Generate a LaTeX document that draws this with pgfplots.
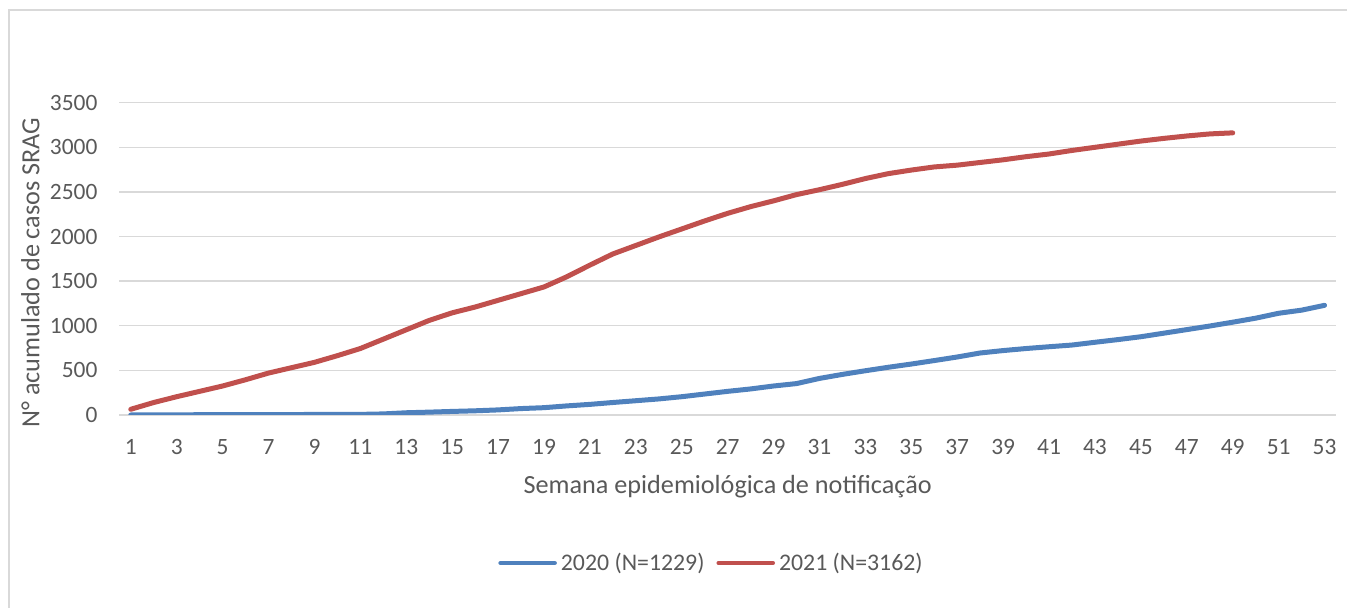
\documentclass[border=0pt]{standalone}
\usepackage{fontspec}
\setmainfont{Carlito}
\usepackage{pgfplots}
\pgfplotsset{compat=1.18}
\definecolor{blue20}{HTML}{4F81BD}
\definecolor{red21}{HTML}{C0504D}
\definecolor{txt}{HTML}{595959}
\definecolor{grd}{HTML}{D9D9D9}
\begin{document}
\begin{tikzpicture}
\useasboundingbox (0,0) rectangle (673.5pt,304pt);
\draw[grd, line width=0.8pt] (4.5pt,0) -- (4.5pt,299pt) -- (673.5pt,299pt);
\begin{axis}[
  at={(59.65pt,96.5pt)}, anchor=south west,
  scale only axis, width=608.35pt, height=156.15pt,
  xmin=0.5, xmax=53.5, ymin=0, ymax=3500,
  xtick={1,3,...,53}, ytick={0,500,...,3500},
  axis line style={draw=none},
  tick style={draw=none},
  ymajorgrids, grid style={grd, line width=0.7pt},
  /pgf/number format/assume math mode=true,
  /pgf/number format/1000 sep={},
  ticklabel style={font=\fontsize{11.7}{13}\selectfont, text=txt},
  xticklabel style={yshift=-8.5pt},
  yticklabel style={xshift=-7.4pt},
  xlabel={Semana epidemiológica de notificação},
  ylabel={N° acumulado de casos SRAG},
  label style={font=\fontsize{13.1}{15}\selectfont, text=txt},
  xlabel style={at={(axis description cs:0.5,-0.2305)}, anchor=center},
  ylabel style={at={(axis description cs:-0.073,0.456)}, anchor=center},
  legend columns=2,
  legend style={draw=none, fill=none, at={(axis description cs:0.4875,-0.474)}, anchor=center,
    font=\fontsize{11.9}{14}\selectfont, text=txt,
    /tikz/every even column/.append style={column sep=4pt}},
  legend image code/.code={\draw[#1, line width=2.3pt, line cap=round] (0pt,0pt) -- (27pt,0pt);},
  legend cell align=left,
]
\addplot[blue20, line width=2.5pt, line cap=round, line join=round] coordinates {
(1,0) (2,1) (3,2) (4,3) (5,3) (6,4) (7,5) (8,5) (9,6) (10,6) (11,7) (12,12) (13,25) (14,32) (15,40) (16,47) (17,57) (18,72) (19,82) (20,102) (21,119) (22,140) (23,160) (24,180) (25,205) (26,235) (27,265) (28,292) (29,325) (30,352) (31,410) (32,455) (33,496) (34,535) (35,571) (36,610) (37,650) (38,695) (39,722) (40,745) (41,765) (42,784) (43,815) (44,845) (45,877) (46,917) (47,957) (48,997) (49,1040) (50,1085) (51,1140) (52,1175) (53,1229)
};
\addlegendentry{2020 (N=1229)}
\addplot[red21, line width=2.5pt, line cap=round, line join=round] coordinates {
(1,64) (2,140) (3,205) (4,265) (5,325) (6,395) (7,470) (8,530) (9,590) (10,665) (11,745) (12,850) (13,955) (14,1060) (15,1145) (16,1210) (17,1285) (18,1360) (19,1435) (20,1550) (21,1680) (22,1805) (23,1900) (24,1995) (25,2085) (26,2175) (27,2260) (28,2335) (29,2400) (30,2470) (31,2525) (32,2585) (33,2650) (34,2705) (35,2745) (36,2780) (37,2800) (38,2830) (39,2860) (40,2895) (41,2925) (42,2965) (43,3000) (44,3035) (45,3070) (46,3100) (47,3127) (48,3150) (49,3162)
};
\addlegendentry{2021 (N=3162)}
\end{axis}
\end{tikzpicture}
\end{document}
